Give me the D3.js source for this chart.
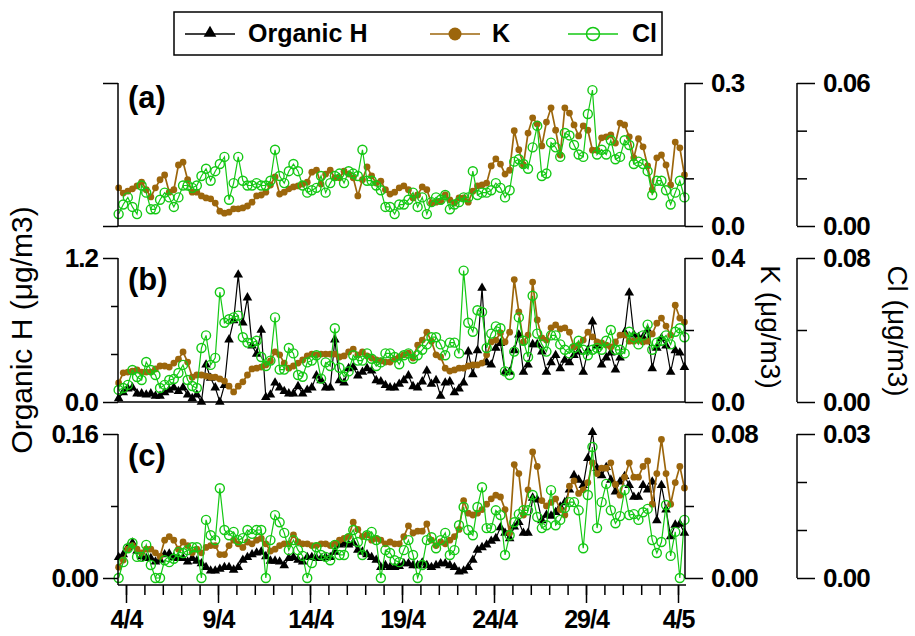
<!DOCTYPE html>
<html>
<head>
<meta charset="utf-8">
<script src="https://cdn.jsdelivr.net/npm/d3@7"></script>
<style>
  body { margin: 0; background: #fff; }
  text { font-family: "Liberation Sans", Arial, sans-serif; }
  .tick text { font-size: 26px; font-weight: bold; fill: #000; letter-spacing: -1px; }
  .xaxis .tick text { font-size: 25px; }
  .tick line { stroke: #000; stroke-width: 1.5; }
</style>
</head>
<body>
<svg id="chart" width="915" height="636"></svg>
<script>
// sampling: every 6 h, first sample 3 Apr 14:24
var firstSample = new Date(2014, 3, 3, 14, 24);
var nSamples = 124;
var times = d3.range(nSamples).map(function(i) { return d3.timeHour.offset(firstSample, i * 6); });

var dayTicks = [new Date(2014,3,4), new Date(2014,3,9), new Date(2014,3,14), new Date(2014,3,19),
                new Date(2014,3,24), new Date(2014,3,29), new Date(2014,4,4)];

// panel (a)
var K_a = [0.080,0.069,0.073,0.078,0.084,0.092,0.076,0.061,0.080,0.097,
  0.107,0.071,0.076,0.128,0.134,0.097,0.071,0.071,0.063,0.059,
  0.057,0.048,0.031,0.027,0.029,0.036,0.036,0.038,0.042,0.050,
  0.063,0.065,0.071,0.086,0.103,0.067,0.071,0.078,0.082,0.084,
  0.088,0.092,0.113,0.117,0.088,0.109,0.117,0.101,0.101,0.115,
  0.109,0.101,0.063,0.097,0.124,0.105,0.090,0.094,0.076,0.067,
  0.071,0.080,0.084,0.076,0.059,0.065,0.082,0.076,0.048,0.050,
  0.052,0.065,0.055,0.048,0.059,0.059,0.050,0.073,0.084,0.086,
  0.090,0.126,0.141,0.130,0.109,0.117,0.200,0.160,0.128,0.195,
  0.227,0.214,0.168,0.218,0.248,0.201,0.149,0.248,0.237,0.212,
  0.189,0.210,0.201,0.159,0.159,0.185,0.187,0.191,0.174,0.216,
  0.212,0.187,0.143,0.183,0.166,0.126,0.076,0.143,0.149,0.128,
  0.086,0.176,0.164,0.107];
var Cl_a = [0.005,0.009,0.012,0.008,0.005,0.017,0.014,0.007,0.007,0.011,
  0.014,0.012,0.008,0.012,0.017,0.017,0.016,0.017,0.021,0.024,
  0.019,0.023,0.026,0.029,0.011,0.018,0.029,0.019,0.017,0.017,
  0.018,0.017,0.017,0.019,0.032,0.021,0.018,0.023,0.026,0.023,
  0.017,0.014,0.015,0.016,0.021,0.014,0.018,0.021,0.022,0.018,
  0.023,0.022,0.021,0.032,0.019,0.019,0.017,0.015,0.008,0.008,
  0.005,0.009,0.009,0.011,0.014,0.008,0.012,0.005,0.010,0.012,
  0.011,0.013,0.007,0.009,0.010,0.012,0.012,0.023,0.013,0.014,
  0.014,0.015,0.018,0.016,0.012,0.015,0.027,0.028,0.026,0.024,
  0.033,0.042,0.021,0.022,0.035,0.033,0.029,0.039,0.038,0.034,
  0.030,0.029,0.047,0.057,0.030,0.032,0.030,0.036,0.028,0.029,
  0.036,0.034,0.026,0.027,0.026,0.023,0.013,0.019,0.019,0.015,
  0.009,0.014,0.019,0.012];

// panel (b)
var H_b = [0.03,0.08,0.11,0.12,0.07,0.07,0.06,0.07,0.05,0.05,
  0.08,0.10,0.12,0.09,0.12,0.06,0.03,0.06,0.00,0.31,
  0.20,0.12,0.00,0.14,0.52,0.68,1.06,0.66,0.87,0.47,
  0.40,0.60,0.04,0.06,0.16,0.12,0.09,0.07,0.07,0.13,
  0.07,0.10,0.12,0.22,0.18,0.12,0.12,0.52,0.18,0.16,
  0.28,0.29,0.22,0.25,0.28,0.26,0.18,0.17,0.14,0.12,
  0.12,0.15,0.18,0.22,0.13,0.12,0.17,0.26,0.15,0.18,
  0.05,0.16,0.17,0.08,0.11,0.16,0.42,0.23,0.43,0.95,
  0.33,0.31,0.45,0.49,0.25,0.25,0.43,0.56,0.25,0.31,
  0.48,0.48,0.42,0.25,0.33,0.39,0.28,0.35,0.33,0.39,
  0.42,0.25,0.43,0.67,0.47,0.31,0.37,0.41,0.27,0.37,
  0.58,0.91,0.56,0.54,0.54,0.60,0.28,0.45,0.53,0.47,
  0.25,0.43,0.41,0.29];
var K_b = [0.053,0.081,0.083,0.086,0.089,0.083,0.083,0.083,0.092,0.100,
  0.100,0.097,0.108,0.119,0.139,0.111,0.069,0.075,0.075,0.072,
  0.069,0.069,0.064,0.058,0.044,0.028,0.044,0.056,0.075,0.092,
  0.094,0.097,0.103,0.114,0.139,0.131,0.108,0.094,0.100,0.108,
  0.117,0.128,0.133,0.131,0.133,0.133,0.133,0.133,0.125,0.128,
  0.139,0.147,0.131,0.139,0.128,0.122,0.117,0.114,0.111,0.111,
  0.119,0.125,0.131,0.136,0.122,0.158,0.172,0.194,0.169,0.131,
  0.125,0.094,0.086,0.089,0.094,0.094,0.100,0.103,0.103,0.108,
  0.131,0.167,0.172,0.192,0.167,0.194,0.340,0.250,0.167,0.186,
  0.333,0.228,0.178,0.172,0.206,0.214,0.203,0.206,0.194,0.153,
  0.158,0.172,0.194,0.181,0.167,0.164,0.158,0.153,0.167,0.186,
  0.186,0.169,0.169,0.172,0.167,0.169,0.189,0.219,0.233,0.211,
  0.186,0.269,0.233,0.222];
var Cl_b = [0.0067,0.0078,0.0095,0.0178,0.0139,0.0122,0.0222,0.0178,0.0150,0.0078,
  0.0095,0.0122,0.0128,0.0161,0.0206,0.0122,0.0089,0.0078,0.030,0.037,
  0.0206,0.0245,0.061,0.044,0.046,0.047,0.048,0.036,0.033,0.033,
  0.034,0.025,0.020,0.023,0.047,0.018,0.018,0.030,0.027,0.015,
  0.014,0.022,0.023,0.026,0.013,0.022,0.020,0.041,0.019,0.014,
  0.017,0.026,0.023,0.023,0.027,0.024,0.020,0.022,0.027,0.027,
  0.025,0.021,0.026,0.027,0.024,0.026,0.029,0.032,0.036,0.036,
  0.032,0.026,0.033,0.033,0.027,0.073,0.044,0.039,0.051,0.050,
  0.030,0.038,0.042,0.041,0.017,0.015,0.028,0.047,0.034,0.025,
  0.059,0.038,0.032,0.028,0.037,0.037,0.032,0.029,0.027,0.030,
  0.034,0.029,0.026,0.029,0.030,0.029,0.034,0.040,0.029,0.029,
  0.027,0.039,0.036,0.032,0.037,0.043,0.029,0.033,0.034,0.037,
  0.032,0.039,0.041,0.036];

// panel (c)
var H_c = [0.023,0.026,0.034,0.039,0.030,0.024,0.022,0.022,0.018,0.020,
  0.026,0.027,0.023,0.022,0.022,0.018,0.022,0.019,0.016,0.012,
  0.008,0.008,0.010,0.012,0.012,0.009,0.012,0.020,0.023,0.026,
  0.028,0.029,0.024,0.019,0.019,0.018,0.014,0.022,0.023,0.020,
  0.018,0.023,0.023,0.022,0.022,0.023,0.023,0.029,0.037,0.038,
  0.037,0.039,0.031,0.029,0.026,0.023,0.020,0.012,0.014,0.012,
  0.012,0.013,0.016,0.016,0.014,0.014,0.017,0.014,0.012,0.014,
  0.016,0.016,0.014,0.012,0.007,0.008,0.012,0.020,0.031,0.034,
  0.037,0.041,0.044,0.056,0.050,0.044,0.057,0.062,0.050,0.050,
  0.089,0.087,0.064,0.070,0.069,0.073,0.079,0.084,0.098,0.114,
  0.109,0.103,0.133,0.162,0.122,0.114,0.123,0.109,0.096,0.107,
  0.113,0.103,0.090,0.090,0.103,0.098,0.107,0.064,0.103,0.076,
  0.046,0.059,0.060,0.050];
var K_c = [0.006,0.010,0.016,0.018,0.016,0.014,0.016,0.016,0.014,0.012,
  0.021,0.023,0.021,0.016,0.020,0.018,0.014,0.016,0.014,0.017,
  0.018,0.018,0.013,0.013,0.018,0.021,0.019,0.017,0.020,0.019,
  0.021,0.022,0.019,0.015,0.016,0.018,0.019,0.019,0.024,0.020,
  0.019,0.019,0.018,0.018,0.019,0.019,0.018,0.019,0.021,0.022,
  0.023,0.031,0.027,0.023,0.024,0.021,0.022,0.021,0.019,0.020,
  0.019,0.019,0.023,0.029,0.025,0.026,0.026,0.030,0.021,0.018,
  0.020,0.019,0.021,0.023,0.027,0.043,0.036,0.035,0.036,0.038,
  0.041,0.044,0.046,0.045,0.038,0.025,0.063,0.058,0.035,0.049,
  0.070,0.062,0.043,0.040,0.042,0.044,0.038,0.035,0.051,0.054,
  0.047,0.049,0.053,0.064,0.058,0.061,0.061,0.064,0.052,0.046,
  0.056,0.064,0.056,0.056,0.062,0.065,0.041,0.058,0.077,0.058,
  0.041,0.053,0.062,0.050];
var Cl_c = [0.000,0.0033,0.0062,0.0073,0.0044,0.0044,0.0069,0.0027,0.000,0.000,
  0.0037,0.0033,0.0040,0.0054,0.0052,0.0058,0.0064,0.0064,0.000,0.0121,
  0.0089,0.0079,0.0187,0.0100,0.0089,0.0096,0.0079,0.0083,0.0100,0.0092,
  0.0100,0.0100,0.000,0.0079,0.0131,0.0116,0.0094,0.0058,0.0079,0.0058,
  0.0046,0.000,0.0031,0.0064,0.0048,0.0044,0.0037,0.0069,0.0048,0.0048,
  0.0083,0.0100,0.0075,0.0048,0.0089,0.0096,0.0079,0.000,0.0058,0.0052,
  0.0037,0.0033,0.0058,0.0079,0.0048,0.000,0.0027,0.0079,0.0085,0.0062,
  0.0079,0.0094,0.0048,0.0058,0.0110,0.0148,0.0100,0.0089,0.0148,0.0189,
  0.0104,0.0104,0.0141,0.0131,0.0048,0.0089,0.0116,0.0133,0.0141,0.0141,
  0.0173,0.0127,0.0104,0.0110,0.0183,0.0110,0.0121,0.0146,0.0158,0.0158,
  0.0141,0.0062,0.0173,0.0273,0.0104,0.0158,0.0196,0.0141,0.0114,0.0129,
  0.0183,0.0131,0.0133,0.0121,0.0137,0.0144,0.0079,0.0052,0.0075,0.0152,
  0.0046,0.0096,0.000,0.0121];

// axis ranges and ticks (major labelled, minor not)
var hMax = [1.2, 1.2, 0.16], hMajor = [[], [0, 1.2], [0, 0.16]], hMinor = [[], [0.4, 0.8], [0.08]];
var kMax = [0.3, 0.4, 0.08], kMajor = [[0, 0.3], [0, 0.4], [0, 0.08]], kMinor = [[0.1, 0.2], [0.2], [0.04]];
var clMax = [0.06, 0.08, 0.03], clMajor = [[0, 0.06], [0, 0.08], [0, 0.03]], clMinor = [[0.02, 0.04], [0.04], [0.01, 0.02]];
var hFmt = [d3.format('.1f'), d3.format('.1f'), d3.format('.2f')];
var kFmt = [d3.format('.1f'), d3.format('.1f'), d3.format('.2f')];
var panelLabels = ['(a)', '(b)', '(c)'];

var hSeries = [null, H_b, H_c], kSeries = [K_a, K_b, K_c], clSeries = [Cl_a, Cl_b, Cl_c];

var brown = '#9c660c', green = '#14c814';

var panelBox = [{top: 83, bottom: 226}, {top: 258, bottom: 402}, {top: 434, bottom: 578}];
var xAxisY = 585, leftX = 118, kX = 685, clX = 797;

const svg = d3.select('#chart');
svg.append('rect').attr('width', 915).attr('height', 636).attr('fill', '#fff');

var x = d3.scaleTime()
    .domain([new Date(2014, 3, 3, 13, 34), new Date(2014, 4, 4, 10, 26)])
    .range([leftX, 686]);

function vline(g, xp, y1, y2) {
  g.append('line').attr('x1', xp).attr('x2', xp).attr('y1', y1).attr('y2', y2)
    .attr('stroke', '#000').attr('stroke-width', 1.5);
}

function addAxis(g, axisFn, scale, xp, major, minor, fmt, majorLen, minorLen, pad) {
  g.append('g').attr('transform', 'translate(' + xp + ',0)')
    .call(axisFn(scale).tickValues(minor).tickSize(minorLen).tickFormat(''))
    .call(function(s) { s.select('.domain').remove(); });
  g.append('g').attr('transform', 'translate(' + xp + ',0)')
    .call(axisFn(scale).tickValues(major).tickSize(majorLen).tickPadding(pad).tickFormat(fmt))
    .call(function(s) { s.select('.domain').remove(); });
}

panelBox.forEach(function(p, k) {
  var g = svg.append('g');
  var yH = d3.scaleLinear().domain([0, hMax[k]]).range([p.bottom, p.top]);
  var yK = d3.scaleLinear().domain([0, kMax[k]]).range([p.bottom, p.top]);
  var yCl = d3.scaleLinear().domain([0, clMax[k]]).range([p.bottom, p.top]);

  // lines + markers
  var drawSeries = function(vals, yS, color, lw, kind) {
    var line = d3.line().x(function(d, i) { return x(times[i]); }).y(function(d) { return yS(d); });
    g.append('path').datum(vals).attr('d', line)
      .attr('fill', 'none').attr('stroke', color).attr('stroke-width', lw);
    var m = g.append('g');
    if (kind === 'tri') {
      m.selectAll('path').data(vals).enter().append('path')
        .attr('d', d3.symbol(d3.symbolTriangle, 40))
        .attr('transform', function(d, i) { return 'translate(' + x(times[i]) + ',' + yS(d) + ')'; })
        .attr('fill', color);
    } else if (kind === 'dot') {
      m.selectAll('circle').data(vals).enter().append('circle')
        .attr('cx', function(d, i) { return x(times[i]); }).attr('cy', function(d) { return yS(d); })
        .attr('r', 3.4).attr('fill', color);
    } else {
      m.selectAll('circle').data(vals).enter().append('circle')
        .attr('cx', function(d, i) { return x(times[i]); }).attr('cy', function(d) { return yS(d); })
        .attr('r', 4.5).attr('fill', 'none').attr('stroke', color).attr('stroke-width', 1.4);
    }
  };
  if (hSeries[k]) drawSeries(hSeries[k], yH, '#000', 1.2, 'tri');
  drawSeries(kSeries[k], yK, brown, 1.7, 'dot');
  drawSeries(clSeries[k], yCl, green, 1.2, 'ring');

  // left axis
  var leftBottom = k === 2 ? xAxisY : p.bottom;
  vline(g, leftX, p.top, leftBottom);
  if (k === 0) {
    addAxis(g, d3.axisLeft, yH, leftX, [0, hMax[k]], [], '', 15, 7, 5);
  } else {
    addAxis(g, d3.axisLeft, yH, leftX, hMajor[k], hMinor[k], hFmt[k], 15, 7, 5);
  }
  // K axis
  vline(g, kX, p.top, p.bottom);
  addAxis(g, d3.axisRight, yK, kX, kMajor[k], kMinor[k], kFmt[k], 18, 9, 8);
  // Cl axis
  vline(g, clX, p.top, p.bottom);
  addAxis(g, d3.axisRight, yCl, clX, clMajor[k], clMinor[k], d3.format('.2f'), 18, 10, 8);

  // baseline of panels (a) and (b)
  if (k < 2) {
    g.append('line').attr('x1', leftX).attr('x2', kX).attr('y1', p.bottom).attr('y2', p.bottom)
      .attr('stroke', '#000').attr('stroke-width', 1.5);
  }

  g.append('text').attr('x', 128).attr('y', p.top + (k === 0 ? 25 : 32))
    .attr('font-size', 31).attr('font-weight', 'bold').text(panelLabels[k]);
});

// time axis
svg.append('line').attr('x1', leftX).attr('x2', 686).attr('y1', xAxisY).attr('y2', xAxisY)
  .attr('stroke', '#000').attr('stroke-width', 1.5);
svg.append('g').attr('transform', 'translate(0,' + xAxisY + ')')
  .call(d3.axisBottom(x).tickValues(d3.timeDay.range(new Date(2014, 3, 4), new Date(2014, 4, 5))).tickSize(10).tickFormat(''))
  .call(function(s) { s.select('.domain').remove(); });
svg.append('g').attr('class', 'xaxis').attr('transform', 'translate(0,' + xAxisY + ')')
  .call(d3.axisBottom(x).tickValues(dayTicks).tickSize(18).tickPadding(7).tickFormat(d3.timeFormat('%-d/%-m')))
  .call(function(s) { s.select('.domain').remove(); });

// axis titles
svg.append('text').attr('transform', 'translate(32,330) rotate(-90)')
  .attr('text-anchor', 'middle').attr('font-size', 30).text('Organic H (μg/m3)');
svg.append('text').attr('transform', 'translate(761,327) rotate(90)')
  .attr('text-anchor', 'middle').attr('font-size', 28).text('K (μg/m3)');
svg.append('text').attr('transform', 'translate(888,331) rotate(90)')
  .attr('text-anchor', 'middle').attr('font-size', 28).text('Cl (μg/m3)');

// legend
var legend = svg.append('g');
legend.append('rect').attr('x', 174).attr('y', 12).attr('width', 488).attr('height', 43)
  .attr('fill', '#fff').attr('stroke', '#000').attr('stroke-width', 1.5);
var legItems = [
  {name: 'Organic H', color: '#000', x0: 185, tx: 248, kind: 'tri'},
  {name: 'K', color: brown, x0: 430, tx: 492, kind: 'dot'},
  {name: 'Cl', color: green, x0: 568, tx: 632, kind: 'ring'}
];
legItems.forEach(function(d) {
  legend.append('line').attr('x1', d.x0).attr('x2', d.x0 + 50).attr('y1', 34).attr('y2', 34)
    .attr('stroke', d.color).attr('stroke-width', 1.5);
  if (d.kind === 'tri') {
    legend.append('path').attr('d', d3.symbol(d3.symbolTriangle, 70))
      .attr('transform', 'translate(' + (d.x0 + 25) + ',33)').attr('fill', d.color);
  } else if (d.kind === 'dot') {
    legend.append('circle').attr('cx', d.x0 + 25).attr('cy', 34).attr('r', 6.5).attr('fill', d.color);
  } else {
    legend.append('circle').attr('cx', d.x0 + 25).attr('cy', 34).attr('r', 6.5)
      .attr('fill', 'none').attr('stroke', d.color).attr('stroke-width', 1.5);
  }
  legend.append('text').attr('x', d.tx).attr('y', 42)
    .attr('font-size', 25).attr('font-weight', 'bold').text(d.name);
});
</script>
</body>
</html>
